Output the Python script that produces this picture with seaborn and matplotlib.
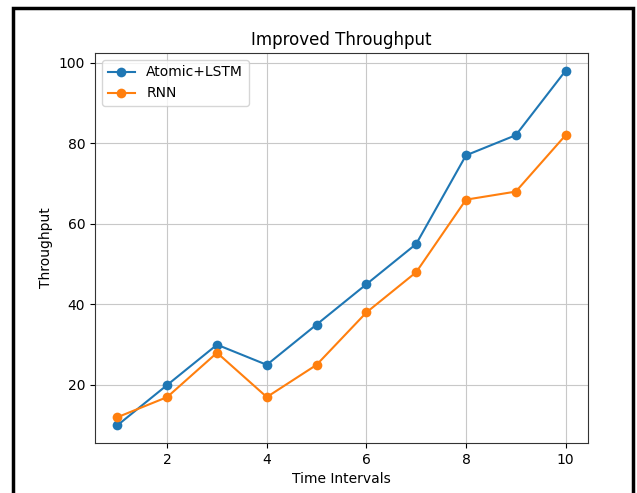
import pandas as pd
import seaborn as sns
import matplotlib.pyplot as plt
from matplotlib.patches import Rectangle

# datos
intervals = [1, 2, 3, 4, 5, 6, 7, 8, 9, 10]
atomic_lstm = [10, 20, 30, 25, 35, 45, 55, 77, 82, 98]
rnn = [12, 17, 28, 17, 25, 38, 48, 66, 68, 82]

df = pd.DataFrame({
    'Time Intervals': intervals * 2,
    'Throughput': atomic_lstm + rnn,
    'model': ['Atomic+LSTM'] * len(intervals) + ['RNN'] * len(intervals),
})

fig = plt.figure(figsize=(6.37, 4.93), dpi=100)
ax = fig.add_axes([95 / 637, 1 - 443 / 493, 493 / 637, 390 / 493])

sns.lineplot(data=df, x='Time Intervals', y='Throughput', hue='model',
             palette=['#1f77b4', '#ff7f0e'], marker='o', markersize=7,
             markeredgewidth=0, linewidth=1.5, ax=ax)

ax.set_title('Improved Throughput', fontsize=12)
ax.set_xlabel('Time Intervals', fontsize=10)
ax.set_ylabel('Throughput', fontsize=10)
ax.grid(True, color='#c8c8c8', linewidth=0.8)
for s in ax.spines.values():
    s.set_color('#333333')
ax.legend(title=None, loc='upper left', fontsize=10)

# marco negro alrededor de la figura
fig.add_artist(Rectangle((13 / 637, -0.05), 620 / 637, 1.05 - 8 / 493,
                         transform=fig.transFigure, fill=False,
                         edgecolor='black', linewidth=2.5))

fig.savefig('out.png', dpi=100)
